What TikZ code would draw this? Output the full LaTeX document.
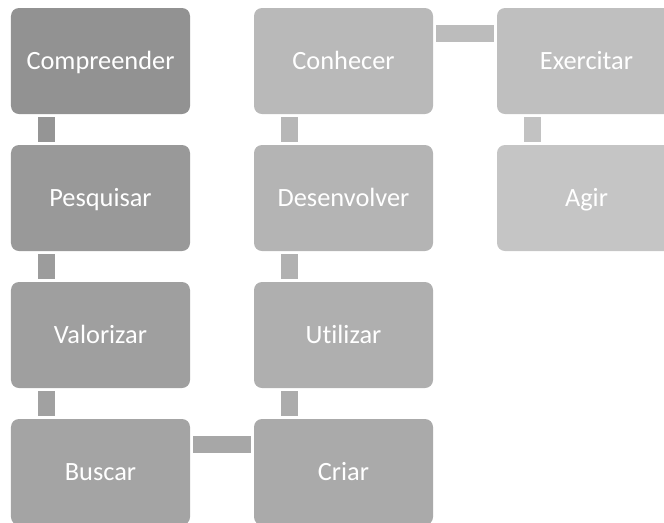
\documentclass[tikz,border=0pt]{standalone}
\usepackage{fontspec}
\setmainfont{Carlito}[Ligatures=NoCommon]
\definecolor{gA}{HTML}{929292}
\definecolor{gB}{HTML}{999999}
\definecolor{gC}{HTML}{9F9F9F}
\definecolor{gD}{HTML}{A4A4A4}
\definecolor{gE}{HTML}{AAAAAA}
\definecolor{gF}{HTML}{AFAFAF}
\definecolor{gG}{HTML}{B4B4B4}
\definecolor{gH}{HTML}{B9B9B9}
\definecolor{gI}{HTML}{BFBFBF}
\definecolor{gJ}{HTML}{C5C5C5}
\begin{document}
\begin{tikzpicture}[x=1cm,y=1cm,
  stepbox/.style={rounded corners=0.16cm, minimum width=3.58cm, minimum height=2.12cm,
    inner sep=0pt, text height=0.42cm, text depth=0.10cm, text=white,
    font=\fontsize{15pt}{18pt}\selectfont},
  link/.style={line width=0.34cm, line cap=butt, shorten <=0.06cm, shorten >=0.06cm}]
\useasboundingbox (0,0) rectangle (13.28,-10.44);
\begin{scope}
\clip (0,0) rectangle (13.28,-10.44);
\node[stepbox, fill=gA] (a) at (2.01,-1.22) {Compreender};
\node[stepbox, fill=gB] (b) at (2.01,-3.96) {Pesquisar};
\node[stepbox, fill=gC] (c) at (2.01,-6.70) {Valorizar};
\node[stepbox, fill=gD] (d) at (2.01,-9.44) {Buscar};
\node[stepbox, fill=gE] (e) at (6.87,-9.44) {Criar};
\node[stepbox, fill=gF] (f) at (6.87,-6.70) {Utilizar};
\node[stepbox, fill=gG] (g) at (6.87,-3.96) {Desenvolver};
\node[stepbox, fill=gH] (h) at (6.87,-1.22) {Conhecer};
\node[stepbox, fill=gI] (i) at (11.73,-1.22) {Exercitar};
\node[stepbox, fill=gJ] (j) at (11.73,-3.96) {Agir};

\draw[link, gA!50!gB] ([xshift=0.71cm]a.south west) -- ([xshift=0.71cm]b.north west);
\draw[link, gB!50!gC] ([xshift=0.71cm]b.south west) -- ([xshift=0.71cm]c.north west);
\draw[link, gC!50!gD] ([xshift=0.71cm]c.south west) -- ([xshift=0.71cm]d.north west);
\draw[link, gD!50!gE] ([yshift=-0.51cm]d.north east) -- ([yshift=-0.51cm]e.north west);
\draw[link, gE!50!gF] ([xshift=0.71cm]e.north west) -- ([xshift=0.71cm]f.south west);
\draw[link, gF!50!gG] ([xshift=0.71cm]f.north west) -- ([xshift=0.71cm]g.south west);
\draw[link, gG!50!gH] ([xshift=0.71cm]g.north west) -- ([xshift=0.71cm]h.south west);
\draw[link, gH!50!gI] ([yshift=-0.51cm]h.north east) -- ([yshift=-0.51cm]i.north west);
\draw[link, gI!50!gJ] ([xshift=0.71cm]i.south west) -- ([xshift=0.71cm]j.north west);
\end{scope}
\end{tikzpicture}
\end{document}
